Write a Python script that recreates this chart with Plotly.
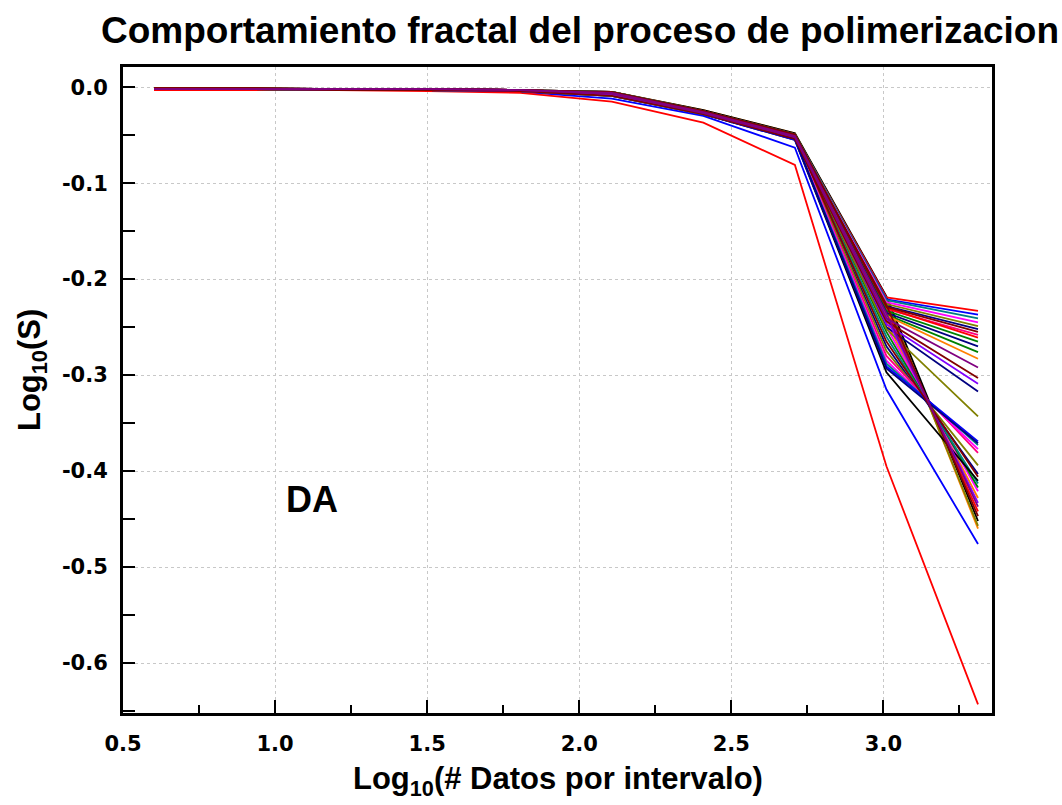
import plotly.graph_objects as go

# Log10 of the number of data points per interval (4, 8, ..., 2048)
log_n = [0.602, 0.903, 1.204, 1.505, 1.806, 2.107, 2.408, 2.709, 3.010, 3.311]

# Curves that flatten out at the last interval
curvas_altas = [
    [-0.002, -0.002, -0.002, -0.002, -0.003, -0.006, -0.026, -0.050, -0.219, -0.233],
    [-0.002, -0.002, -0.002, -0.003, -0.004, -0.008, -0.027, -0.052, -0.221, -0.237],
    [-0.001, -0.001, -0.002, -0.002, -0.003, -0.005, -0.025, -0.049, -0.222, -0.241],
    [-0.002, -0.002, -0.002, -0.002, -0.003, -0.006, -0.026, -0.051, -0.224, -0.245],
    [-0.002, -0.002, -0.003, -0.003, -0.004, -0.009, -0.028, -0.053, -0.226, -0.249],
    [-0.002, -0.002, -0.002, -0.002, -0.003, -0.007, -0.026, -0.050, -0.228, -0.252],
    [-0.001, -0.001, -0.002, -0.002, -0.003, -0.005, -0.025, -0.049, -0.229, -0.255],
    [-0.002, -0.002, -0.002, -0.003, -0.004, -0.008, -0.027, -0.052, -0.231, -0.258],
    [-0.002, -0.002, -0.002, -0.002, -0.003, -0.006, -0.026, -0.051, -0.230, -0.261],
    [-0.002, -0.002, -0.003, -0.003, -0.004, -0.008, -0.027, -0.053, -0.233, -0.265],
    [-0.002, -0.002, -0.002, -0.002, -0.003, -0.006, -0.026, -0.050, -0.235, -0.270],
    [-0.001, -0.001, -0.002, -0.002, -0.003, -0.005, -0.025, -0.049, -0.237, -0.276],
    [-0.002, -0.002, -0.002, -0.003, -0.004, -0.007, -0.026, -0.051, -0.238, -0.283],
    [-0.002, -0.002, -0.002, -0.002, -0.003, -0.007, -0.027, -0.052, -0.241, -0.292],
    [-0.002, -0.002, -0.003, -0.003, -0.004, -0.009, -0.028, -0.054, -0.244, -0.303],
    [-0.002, -0.002, -0.002, -0.002, -0.003, -0.006, -0.026, -0.050, -0.247, -0.309],
    [-0.002, -0.002, -0.002, -0.003, -0.004, -0.008, -0.027, -0.053, -0.250, -0.317],
    [-0.001, -0.002, -0.002, -0.002, -0.003, -0.006, -0.026, -0.051, -0.252, -0.343],
]
colores_altas = [
    "#FF0000", "#0000FF", "#008080", "#FF00FF", "#808000", "#000080",
    "#800000", "#FF0080", "#FF0000", "#008000", "#000080", "#008000",
    "#FF8000", "#800080", "#800000", "#8000FF", "#000080", "#808000",
]

# Curves that keep falling at the last interval
curvas_bajas = [
    [-0.002, -0.002, -0.002, -0.002, -0.003, -0.005, -0.024, -0.048, -0.220, -0.460],
    [-0.002, -0.002, -0.002, -0.002, -0.003, -0.005, -0.024, -0.048, -0.218, -0.452],
    [-0.002, -0.002, -0.002, -0.003, -0.004, -0.007, -0.026, -0.050, -0.223, -0.457],
    [-0.001, -0.001, -0.002, -0.002, -0.003, -0.006, -0.025, -0.050, -0.227, -0.447],
    [-0.002, -0.002, -0.002, -0.003, -0.004, -0.008, -0.027, -0.052, -0.232, -0.442],
    [-0.002, -0.002, -0.002, -0.002, -0.003, -0.006, -0.026, -0.051, -0.236, -0.437],
    [-0.002, -0.002, -0.003, -0.003, -0.004, -0.008, -0.027, -0.052, -0.240, -0.433],
    [-0.002, -0.002, -0.002, -0.002, -0.003, -0.006, -0.026, -0.050, -0.245, -0.428],
    [-0.001, -0.001, -0.002, -0.002, -0.003, -0.005, -0.025, -0.049, -0.250, -0.421],
    [-0.002, -0.002, -0.002, -0.003, -0.004, -0.007, -0.026, -0.051, -0.255, -0.417],
    [-0.002, -0.002, -0.002, -0.002, -0.003, -0.007, -0.027, -0.052, -0.260, -0.413],
    [-0.002, -0.002, -0.003, -0.003, -0.004, -0.009, -0.028, -0.055, -0.297, -0.410],
    [-0.002, -0.002, -0.002, -0.002, -0.003, -0.006, -0.026, -0.051, -0.265, -0.406],
    [-0.002, -0.002, -0.002, -0.003, -0.004, -0.008, -0.027, -0.053, -0.270, -0.403],
    [-0.001, -0.002, -0.002, -0.002, -0.003, -0.006, -0.026, -0.051, -0.275, -0.394],
    [-0.002, -0.002, -0.002, -0.003, -0.004, -0.008, -0.027, -0.053, -0.280, -0.381],
    [-0.002, -0.002, -0.002, -0.002, -0.003, -0.007, -0.027, -0.053, -0.285, -0.377],
    [-0.002, -0.002, -0.003, -0.003, -0.004, -0.009, -0.028, -0.054, -0.288, -0.373],
    [-0.002, -0.002, -0.002, -0.003, -0.004, -0.009, -0.028, -0.055, -0.291, -0.369],
    [-0.002, -0.002, -0.002, -0.002, -0.004, -0.008, -0.028, -0.054, -0.293, -0.371],
]
colores_bajas = [
    "#FF8000", "#000000", "#808000", "#800000", "#FF0000", "#800080",
    "#8000FF", "#FF8000", "#FF00FF", "#008000", "#008080", "#000000",
    "#800000", "#000080", "#808000", "#FF0080", "#FF00FF", "#008080",
    "#0000FF", "#000080",
]

# The two steepest curves
curva_azul = [-0.002, -0.002, -0.002, -0.003, -0.005, -0.012, -0.030, -0.063, -0.315, -0.476]
curva_roja = [-0.003, -0.003, -0.003, -0.004, -0.006, -0.015, -0.037, -0.081, -0.395, -0.643]

x_ticks = [0.5, 1.0, 1.5, 2.0, 2.5, 3.0]
y_ticks = [0.0, -0.1, -0.2, -0.3, -0.4, -0.5, -0.6]

# Stacking order inside the bundle: purple / wine tones end up on top
prioridad = {"#800080": 3, "#800000": 2, "#8000FF": 1}

curvas = list(zip(curvas_bajas, colores_bajas)) + list(zip(curvas_altas, colores_altas))
curvas.sort(key=lambda par: prioridad.get(par[1], 0))

fig = go.Figure()

fig.add_trace(go.Scatter(x=log_n, y=curva_azul, mode="lines",
                         line=dict(color="#0000FF", width=1.8)))
fig.add_trace(go.Scatter(x=log_n, y=curva_roja, mode="lines",
                         line=dict(color="#FF0000", width=1.8)))
for fila, color in curvas:
    fig.add_trace(go.Scatter(x=log_n, y=fila, mode="lines",
                             line=dict(color=color, width=1.8)))

tick_font = dict(family="DejaVu Sans", size=21, color="black", weight="bold")
title_font = dict(family="Liberation Sans", size=31, color="black", weight="bold")

fig.update_layout(
    width=1062, height=805,
    margin=dict(l=123, r=70, t=67, b=92),
    paper_bgcolor="white", plot_bgcolor="white",
    showlegend=False,
    title=dict(
        text="Comportamiento fractal del proceso de polimerizacion",
        x=580 / 1062, xref="container", xanchor="center",
        y=1 - 30 / 805, yref="container", yanchor="middle",
        font=dict(family="Liberation Sans", size=37, color="black", weight="bold"),
    ),
    xaxis=dict(
        range=[0.5, 3.357], tickvals=x_ticks, ticktext=[f"{v:.1f}" for v in x_ticks],
        ticks="inside", ticklen=13, tickwidth=2, tickcolor="black",
        minor=dict(ticks="inside", ticklen=8, tickwidth=2, tickcolor="black",
                   dtick=0.25, tick0=0.5, showgrid=False),
        showline=True, linewidth=3, linecolor="black", mirror=True,
        showgrid=True, gridcolor="#c8c8c8", griddash="dot", gridwidth=1,
        zeroline=False, tickfont=tick_font, ticklabelstandoff=10,
    ),
    yaxis=dict(
        range=[-0.652, 0.021], tickvals=y_ticks, ticktext=[f"{v:.1f}" for v in y_ticks],
        ticks="inside", ticklen=12, tickwidth=2, tickcolor="black",
        minor=dict(ticks="inside", ticklen=12, tickwidth=2, tickcolor="black",
                   dtick=0.05, tick0=0.0, showgrid=False),
        showline=True, linewidth=3, linecolor="black", mirror=True,
        showgrid=True, gridcolor="#c8c8c8", griddash="dot", gridwidth=1,
        zeroline=False, tickfont=tick_font, ticklabelstandoff=8,
    ),
    annotations=[
        dict(text="Log<sub>10</sub>(# Datos por intervalo)", xref="paper", yref="paper",
             x=(558 - 123) / (1062 - 193), y=-(781 - 713) / (713 - 67),
             xanchor="center", yanchor="middle", showarrow=False, font=title_font),
        dict(text="Log<sub>10</sub>(S)", xref="paper", yref="paper",
             x=-(123 - 32) / (1062 - 193), y=(713 - 370) / (713 - 67),
             xanchor="center", yanchor="middle", textangle=-90, showarrow=False,
             font=title_font),
        dict(text="DA", x=1.12, y=-0.430, xref="x", yref="y", showarrow=False,
             xanchor="center", yanchor="middle",
             font=dict(family="Liberation Sans", size=36, color="black", weight="bold")),
    ],
)

fig.write_html("out.html")
